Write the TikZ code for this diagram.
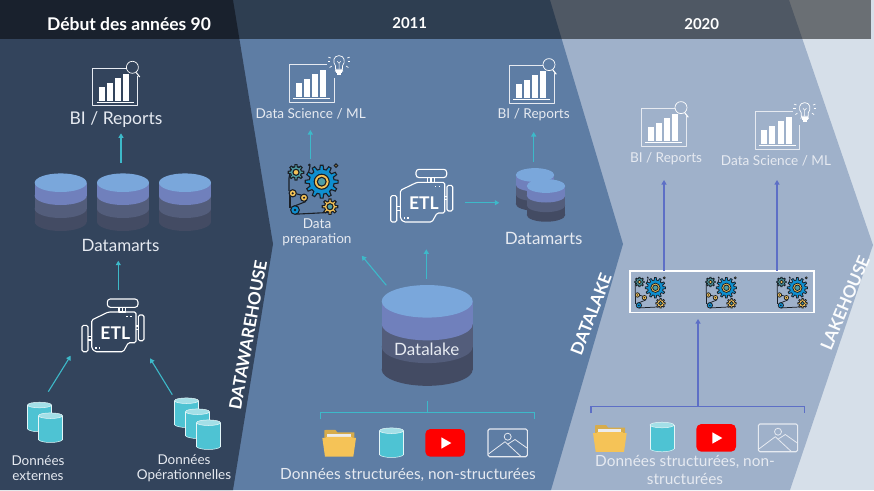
\documentclass[tikz,border=0pt]{standalone}
\usepackage{fontspec}
\setmainfont{Lato}
\usetikzlibrary{arrows.meta}
\definecolor{bgR}{HTML}{D6DFE9}
\definecolor{panC}{HTML}{9FB1CA}
\definecolor{panB}{HTML}{5E7DA4}
\definecolor{panA}{HTML}{33445C}
\definecolor{txt}{HTML}{E6EAF1}
\definecolor{tealA}{HTML}{3DB9C9}
\definecolor{blueA}{HTML}{5D6FC6}
\definecolor{cylA}{HTML}{7AA7DB}
\definecolor{cylB}{HTML}{7080BC}
\definecolor{cylC}{HTML}{535D7B}
\definecolor{cylD}{HTML}{434B63}
\definecolor{cylT}{HTML}{4EC3D3}
\definecolor{cylL}{HTML}{A3DFE7}
\definecolor{yel}{HTML}{F5C357}
\definecolor{gearB}{HTML}{0E8FD0}
\definecolor{gearT}{HTML}{4E9DA6}
\definecolor{gearK}{HTML}{1A1F26}
\newcommand{\gearshape}[6]{% x,y,rin,rout,teeth,fill
  \pgfmathsetmacro{\gs}{360/#5}
  \draw[fill=#6,gearline] ({#1+#3*cos(-0.3*\gs)},{#2+#3*sin(-0.3*\gs)})
    \foreach \i [evaluate=\i as \c using \i*\gs] in {0,...,\numexpr#5-1\relax}{
      -- ({#1+#3*cos(\c-0.3*\gs)},{#2+#3*sin(\c-0.3*\gs)})
      -- ({#1+#4*cos(\c-0.16*\gs)},{#2+#4*sin(\c-0.16*\gs)})
      -- ({#1+#4*cos(\c+0.16*\gs)},{#2+#4*sin(\c+0.16*\gs)})
      -- ({#1+#3*cos(\c+0.3*\gs)},{#2+#3*sin(\c+0.3*\gs)})
    } -- cycle;}
\tikzset{
  lbl/.style={text=txt,inner sep=0pt,align=center,font=#1},
  lbl/.default={\fontsize{13.6}{15}\selectfont},
  hdr/.style={text=white,inner sep=0pt,font=\bfseries\fontsize{#1}{#1}\selectfont},
  vert/.style={text=#1,inner sep=0pt,font=\bfseries\fontsize{17}{17}\selectfont},
  arrT/.style={tealA,line width=1.1pt,-{Triangle[length=4.5pt,width=5pt]}},
  arrB/.style={blueA,line width=1.1pt,-{Triangle[length=4.5pt,width=5pt]}},
  icon/.style={white,line width=1.1pt,line join=round},
  gearline/.style={draw=gearK,line width=1.1pt},
  pics/report/.style={code={
    \foreach \bx/\by in {6.3/19,14.3/14.7,22.7/10,30.7/5.7}
      \fill[white] (\bx,\by) rectangle (\bx+6,32.7);
    \draw[white,line width=.9pt] (4,34.4) -- (41,34.4);
  }},
  pics/lens/.style={code={
    \draw[icon,line width=.8pt,draw=txt] (34,0) -- (0,0) -- (0,37.7) -- (44.6,37.7) -- (44.6,8);
    \draw[icon,line width=.7pt] (39.7,-.7) circle (6);
    \draw[icon,line width=1.1pt] (43.5,4.5) -- (47,9);
  }},
  pics/bulb/.style={code={
    \draw[icon,line width=.8pt,draw=txt] (38,0) -- (0,0) -- (0,37.7) -- (44.6,37.7) -- (44.6,14);
    \draw[icon,line width=.7pt] (46.2,1.5) .. controls (43,-2) and (44,-8.7) .. (49.7,-8.7)
       .. controls (55.4,-8.7) and (56.4,-2) .. (53.2,1.5) -- (53.2,5) -- (46.2,5) -- cycle;
    \fill[white] (46.5,6) rectangle (53,8.5);
    \fill[white] (47.5,9) rectangle (52,11);
    \draw[icon,line width=.5pt] (48,-3) -- (49.7,-1) -- (51.4,-3) (49.7,-1) -- (49.7,5);
    \foreach \a in {0,35,70,110,145,180,-20,200}
      \draw[icon,line width=.7pt] (49.7,-3.3) ++(\a:8.8) -- ++(\a:2.6);
  }},
  pics/engine/.style={code={
    \draw[icon,rounded corners=3pt] (25.3,0) rectangle (56,8.3);
    \draw[icon] (37,8.3) rectangle (43.7,13) (40.3,8.3) -- (40.3,13);
    \draw[icon,rounded corners=1.5pt] (9.7,21) -- (26.3,13) -- (54,13) -- (54,43.7) -- (46.3,43.7)
       -- (41.3,52.7) -- (13,52.7) -- (9.7,49.3) -- cycle;
    \draw[icon,rounded corners=1.5pt] (0,26.3) rectangle (6,52.7);
    \draw[icon,rounded corners=1.5pt] (56.3,16) rectangle (62,41.7);
    \draw[icon] (6,37.5) -- (9.7,37.5) (6,41) -- (9.7,41) (54,27) -- (56.3,27) (54,30.5) -- (56.3,30.5);
    \foreach \dx/\dy in {44.7/17.3,48.7/17.3,13.7/48.7,17.3/48.7}
      \fill[white] (\dx-.8,\dy-.8) rectangle (\dx+.8,\dy+.8);
  }},
  pics/stack/.style={code={
    \foreach \n/\c in {3/cylD,2/cylC,1/cylB}{
      \fill[\c] (0,\n*13) ellipse (26 and 9.3);
      \fill[\c] (-26,\n*13-13) rectangle (26,\n*13);
    }
    \fill[cylA] (0,0) ellipse (26 and 9.3);
  }},
  pics/tcyl/.style={code={
    \fill[cylT] (-12,0) rectangle (12,24);
    \fill[cylT] (0,24) ellipse (12 and 2.8);
    \draw[white!85!cylT,line width=.5pt] (-12,0) -- (-12,24) (12,0) -- (12,24);
    \draw[white!85!cylT,line width=.5pt] (-12,24) .. controls (-9,27.7) and (9,27.7) .. (12,24);
    \fill[cylL,draw=white!85!cylT,line width=.5pt] (0,0) ellipse (12 and 2.8);
  }},
  pics/folder/.style={code={
    \fill[yel!88!black] (2,2) -- (2,12) -- (32,12) -- (32,4) -- (15,4) -- (13,1.5) -- (4,1.5) -- cycle;
    \fill[white!85!gray] (5,5.7) rectangle (28.3,9);
    \fill[yel] (0,9.5) -- (3.5,9.5) -- (4.5,8.5) -- (29.5,8.5) -- (30,9.5) -- (33.7,9.5) -- (31,28.4) -- (2.7,28.4) -- cycle;
  }},
  pics/ytube/.style={code={
    \fill[red,rounded corners=5pt] (0,0) rectangle (39.7,27.7);
    \fill[white] (16,8.3) -- (16,19.7) -- (26,14) -- cycle;
  }},
  pics/imgicon/.style={code={
    \draw[icon,draw=txt,rounded corners=1.5pt] (0,0) rectangle (39.3,27.7);
    \draw[icon,draw=txt,line width=.8pt] (19.7,7.7) circle (3.5);
    \draw[icon,draw=txt,line width=.8pt] (.5,25) -- (17,12.7) -- (33,27.5);
    \draw[icon,draw=txt,line width=.8pt] (20,15) -- (27,10.5) -- (39,19);
  }},
  pics/gears/.style={code={
    \draw[gearline] (-12,-21) -- (-22,-21) -- (-24,-10) -- (-24,3);
    \draw[gearline] (-5,-13) -- (-3,-22);
    \draw[gearline] (-23,7) -- (-23,20);
    \draw[gearline] (-18,26.2) -- (15,24.5) (-21,19) -- (-7,13.5) (-16,6) -- (-12,7);
    \gearshape{8.7}{-6.3}{12.5}{16.5}{12}{gearB}
    \filldraw[fill=yel,gearline] (8.7,-6.3) circle (7.5);
    \filldraw[fill=gearT,gearline] (8.7,-6.3) circle (4.4);
    \gearshape{-17}{-15.7}{5.5}{7.8}{8}{gearT}
    \filldraw[fill=yel,gearline] (-17,-15.7) circle (3);
    \gearshape{17}{18.7}{5.5}{7.8}{8}{yel}
    \filldraw[fill=gearT,gearline] (17,18.7) circle (3);
    \filldraw[fill=yel,gearline] (-20.3,5.3) circle (3.6);
    \fill[gearK] (-20.3,5.3) circle (1.2);
    \filldraw[fill=yel,gearline] (-9,9.7) circle (3.6);
    \fill[gearK] (-9,9.7) circle (1.2);
    \filldraw[fill=gearB,gearline] (-18,22) circle (4.3);
    \fill[gearK] (-18,22) circle (1.3);
    \fill[gearK] (-3.7,-23) circle (1.5);
    \filldraw[fill=yel,gearline] (23,-22.3) circle (1.7);
  }},
}
\begin{document}
\begin{tikzpicture}[x=1pt,y=-1pt]
\path[use as bounding box] (0,0) rectangle (874,490);
% panels
\fill[bgR] (0,0) rectangle (874,490);
\fill[panC] (500,0) -- (789,0) -- (873,245) -- (790,490) -- (500,490) -- cycle;
\fill[panB] (200,0) -- (550,0) -- (623,244) -- (551,490) -- (200,490) -- cycle;
\fill[panA] (0,0) -- (233,0) -- (273,244) -- (233,490) -- (0,490) -- cycle;
\fill[black,opacity=.5] (0,0) rectangle (871,38.5);
% headers
\node[hdr=17.5] (h1) at (129,24) {Début des années 90};
\node[hdr=15] (h2) at (409.7,23) {2011};
\node[hdr=15] (h3) at (701.7,24) {2020};
% vertical labels
\node[vert=white,rotate=80] (vDW) at (248,335) {DATAWAREHOUSE};
\node[vert=white,rotate=69] (vDL) at (591,314) {DATALAKE};
\node[vert=white!90!bgR,rotate=67] (vLH) at (845,303) {LAKEHOUSE};
% ---- left panel
\pic at (92.7,68) {report}; \pic at (92.7,68) {lens};
\node[lbl={\fontsize{17.5}{20}\selectfont}] (biA) at (116,119.5) {BI / Reports};
\pic at (60.7,182.7) {stack};
\pic at (123,182.7) {stack};
\pic at (185,182.7) {stack};
\node[lbl={\fontsize{17}{20}\selectfont}] (dmA) at (120.5,245) {Datamarts};
\pic at (82,299) {engine};
\node[hdr=17.5] (etlA) at (115.3,332.7) {ETL};
\pic at (39.5,405) {tcyl};
\pic at (50.5,415.7) {tcyl};
\pic at (186.5,400.7) {tcyl};
\pic at (197.5,411.7) {tcyl};
\pic at (208.5,422.7) {tcyl};
\node[lbl={\fontsize{13.5}{15}\selectfont}] (srcA) at (38,468) {Données\\externes};
\node[lbl={\fontsize{13.5}{15}\selectfont}] (srcB) at (184,468) {Données\\Opérationnelles};
\coordinate (a1s) at (121,162.7); \coordinate (a1e) at (121,133.3);
\coordinate (a2s) at (118.3,290); \coordinate (a2e) at (118.3,260.7);
\coordinate (a3s) at (48.3,391.7); \coordinate (a3e) at (70.7,355.7);
\coordinate (a4s) at (172.3,394.7); \coordinate (a4e) at (150,358.3);
\draw[arrT] (a1s) -- (a1e);
\draw[arrT] (a2s) -- (a2e);
\draw[arrT] (a3s) -- (a3e);
\draw[arrT] (a4s) -- (a4e);
% ---- middle panel
\pic at (289.3,64.3) {report}; \pic at (289.3,64.3) {bulb};
\node[lbl] (dsB) at (310.7,114) {Data Science / ML};
\pic at (509.3,65.3) {report}; \pic at (509.3,65.3) {lens};
\node[lbl] (biB) at (533.7,115) {BI / Reports};
\pic at (313,188) {gears};
\node[lbl] (prep) at (317,232.5) {Data\\preparation};
\pic at (390.7,169.3) {engine};
\node[hdr=17.5] (etlB) at (424,203) {ETL};
\pic[scale=.74] at (535,175) {stack};
\pic[scale=.74] at (546,186) {stack};
\node[lbl={\fontsize{17}{20}\selectfont}] (dmB) at (543.7,238) {Datamarts};
\pic[scale=1.75] at (427.2,301.3) {stack};
\node[lbl={\fontsize{17}{20}\selectfont}] (lake) at (426.7,349) {Datalake};
\pic at (322.3,428.3) {folder};
\pic at (391.5,430.7) {tcyl};
\pic at (425.3,429) {ytube};
\pic at (488,429) {imgicon};
\node[lbl={\fontsize{15.4}{17}\selectfont}] (dataB) at (408,475) {Données structurées, non-structurées};
\coordinate (b1s) at (310.3,159.3); \coordinate (b1e) at (310.3,130);
\coordinate (b2s) at (533.7,161.7); \coordinate (b2e) at (533.7,132);
\coordinate (b3s) at (465.3,202.7); \coordinate (b3e) at (499.3,202.7);
\coordinate (b4s) at (426.3,279); \coordinate (b4e) at (426.3,249.3);
\coordinate (b5s) at (386.3,285.3); \coordinate (b5e) at (361.7,255.7);
\draw[arrT] (b1s) -- (b1e);
\draw[arrT] (b2s) -- (b2e);
\draw[arrT] (b3s) -- (b3e);
\draw[arrT] (b4s) -- (b4e);
\draw[arrT] (b5s) -- (b5e);
\coordinate (brT) at (427.3,401); \coordinate (brM) at (427.3,412.7);
\coordinate (brL) at (320.7,418.7); \coordinate (brR) at (534,418.7);
\draw[tealA,line width=1pt] (brL) |- (brM) -| (brR) (brT) -- (brM);
% ---- right panel
\pic at (641.3,108.3) {report}; \pic at (641.3,108.3) {lens};
\node[lbl] (biC) at (666,159) {BI / Reports};
\pic at (755,111.3) {report}; \pic at (755,111.3) {bulb};
\node[lbl] (dsC) at (776,161) {Data Science / ML};
\node[draw=white,line width=1.6pt,minimum width=184pt,minimum height=41.6pt,inner sep=0pt] (box) at (721.7,291.5) {};
\begin{scope}[gearline/.style={draw=gearK,line width=.75pt}]
\pic[scale=.62] at (650,291.7) {gears};
\pic[scale=.62] at (721,291.7) {gears};
\pic[scale=.62] at (792,291.7) {gears};
\end{scope}
\pic at (593,423.5) {folder};
\pic at (662,425) {tcyl};
\pic at (696.3,424) {ytube};
\pic at (758.3,424) {imgicon};
\node[lbl={\fontsize{15.4}{18}\selectfont}] (dataC) at (685,469.5) {Données structurées, non-\\structurées};
\coordinate (c1s) at (664,270.7); \coordinate (c1e) at (664,180);
\coordinate (c2s) at (777,270.7); \coordinate (c2e) at (777,180);
\coordinate (c3s) at (698,406.7); \coordinate (c3e) at (698,319);
\coordinate (crL) at (591,413.3); \coordinate (crR) at (804.3,413.3);
\draw[arrB] (c1s) -- (c1e);
\draw[arrB] (c2s) -- (c2e);
\draw[arrB] (c3s) -- (c3e);
\draw[blueA,line width=1.1pt] (crL) |- (c3s) -| (crR);
\end{tikzpicture}
\end{document}
